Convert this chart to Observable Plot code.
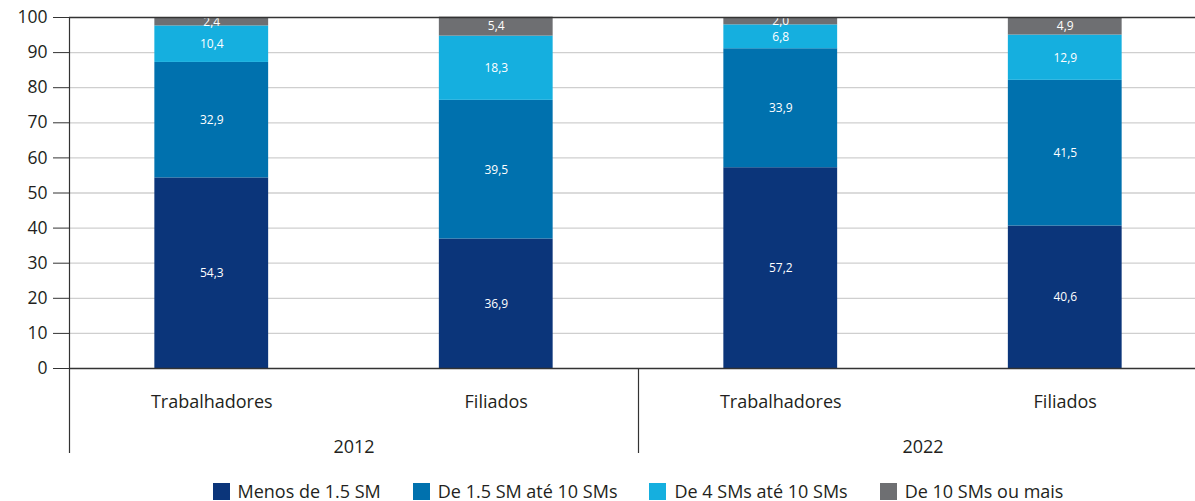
<!DOCTYPE html>
<html>
<head>
<meta charset="utf-8">
<script src="https://cdn.jsdelivr.net/npm/d3@7"></script>
<script src="https://cdn.jsdelivr.net/npm/@observablehq/plot@0.6"></script>
<style>
  html, body { margin: 0; padding: 0; background: #fff; overflow: hidden; }
  #chart svg { overflow: visible; }
  .legend { display: flex; justify-content: center; gap: 32px; margin-left: 69px; width: 1138px; margin-top: 12px;
            font-family: "Open Sans", "Noto Sans", sans-serif; font-size: 18px; line-height: 18px; height: 18px; color: #231f20; }
  .legend .item { display: flex; align-items: center; gap: 8px; }
  .legend .sw { width: 17px; height: 17px; display: inline-block; }
</style>
</head>
<body>
<div id="chart"></div>
<script>
const years = ["2012", "2022"];
const groups = ["Trabalhadores", "Filiados"];
const series = ["Menos de 1.5 SM", "De 1.5 SM até 10 SMs", "De 4 SMs até 10 SMs", "De 10 SMs ou mais"];
const colors = ["#0b357a", "#0071ae", "#15afdf", "#6e6f72"];
// values per bar (2012 Trabalhadores, 2012 Filiados, 2022 Trabalhadores, 2022 Filiados), per series
const menos15 = [54.3, 36.9, 57.2, 40.6];
const de15a10 = [32.9, 39.5, 33.9, 41.5];
const de4a10 = [10.4, 18.3, 6.8, 12.9];
const de10mais = [2.4, 5.4, 2.0, 4.9];
const yTicks = [0, 10, 20, 30, 40, 50, 60, 70, 80, 90, 100];

const seriesValues = [menos15, de15a10, de4a10, de10mais];
const bars = [];
years.forEach((yr, yi) => groups.forEach((g, gi) => bars.push({year: yr, group: g, pos: yi * 2 + gi})));
const rows = [];
bars.forEach((b, bi) => series.forEach((s, si) => rows.push({...b, series: s, value: seriesValues[si][bi]})));

const font = '"Open Sans", "Noto Sans", sans-serif';
const ink = "#231f20";

const plot = Plot.plot({
  width: 1195,
  height: 470,
  marginTop: 17,
  marginBottom: 102,
  marginLeft: 69,
  marginRight: 0,
  style: {fontFamily: font, color: ink, background: "#fff"},
  x: {type: "linear", domain: [0, 4], range: [69, 1207], axis: null},
  y: {domain: [0, 100], axis: null},
  color: {domain: series, range: colors},
  marks: [
    Plot.gridY(yTicks.filter(t => t > 0 && t < 100), {stroke: "#cfcfcf", strokeOpacity: 1, strokeWidth: 1.3}),
    Plot.rectY(rows, Plot.stackY({
      x1: d => d.pos + 0.3, x2: d => d.pos + 0.7, y: "value", fill: "series", order: series
    })),
    Plot.text(rows, Plot.stackY({
      x: d => d.pos + 0.5, y: "value", z: "series", order: series,
      text: d => d.value.toFixed(1).replace(".", ","),
      fill: "white", fontSize: 12, fontFamily: font
    })),
    Plot.ruleY([0, 100], {stroke: "#333", strokeWidth: 1.3}),
    Plot.axisY(yTicks, {tickSize: 16, tickPadding: 6, fontSize: 17.5, stroke: "#333", fill: ink, label: null}),
    Plot.ruleX([0], {stroke: "#333", strokeWidth: 1.2, insetBottom: -85}),
    Plot.ruleX([2], {y1: 0, y2: 0, stroke: "#333", strokeWidth: 1.2, insetBottom: -85}),
    Plot.text(bars, {x: d => d.pos + 0.5, text: "group", frameAnchor: "bottom", lineAnchor: "middle", dy: 34, fontSize: 18, fill: ink}),
    Plot.text(years, {x: (d, i) => i * 2 + 1, text: d => d, frameAnchor: "bottom", lineAnchor: "middle", dy: 79, fontSize: 18, fill: ink})
  ]
});
document.getElementById("chart").appendChild(plot);

const legend = document.createElement("div");
legend.className = "legend";
series.forEach((s, i) => {
  const item = document.createElement("div");
  item.className = "item";
  const sw = document.createElement("span");
  sw.className = "sw";
  sw.style.background = colors[i];
  const label = document.createElement("span");
  label.textContent = s;
  item.appendChild(sw);
  item.appendChild(label);
  legend.appendChild(item);
});
document.getElementById("chart").appendChild(legend);
</script>
</body>
</html>
